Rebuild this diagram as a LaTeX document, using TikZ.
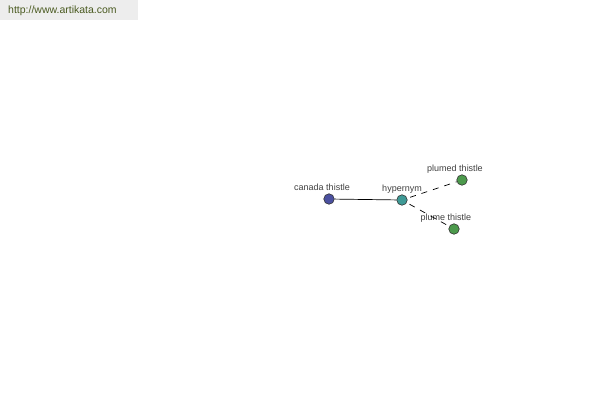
\documentclass[tikz,border=0pt]{standalone}
\usepackage{fontspec}
\setmainfont{Liberation Sans}
\begin{document}
\begin{tikzpicture}[x=1pt,y=-1pt,
  lbl/.style={font=\fontsize{9}{10}\selectfont, text=black!75, inner sep=0pt},
  dot/.style={circle, draw=black!80, line width=0.6pt, minimum size=10.5pt, inner sep=0pt},
  edge/.style={line width=0.7pt, black},
  hedge/.style={line width=0.7pt, black, dash pattern=on 6pt off 6pt, dash phase=9pt}]
\useasboundingbox (0,0) rectangle (600,400);
\fill[fill=black!7] (0,0) rectangle (138,20);
\node[anchor=west, font=\fontsize{10.5}{12}\selectfont, text={rgb,255:red,74;green,90;blue,32}, inner sep=0pt] (url) at (8,11) {http://www.artikata.com};
\node[dot, fill={rgb,255:red,75;green,80;blue,160}] (canada) at (329,199) {};
\node[dot, fill={rgb,255:red,62;green,154;blue,150}] (hyper) at (402,200) {};
\node[dot, fill={rgb,255:red,76;green,154;blue,76}] (plumed) at (462,180) {};
\node[dot, fill={rgb,255:red,76;green,154;blue,76}] (plume) at (454,229) {};
\node[lbl] (lcanada) at (322,187) {canada thistle};
\node[lbl] (lhyper) at (402,189) {hypernym};
\node[lbl] (lplumed) at (455,169) {plumed thistle};
\node[lbl] (lplume) at (446,218) {plume thistle};
\draw[edge] (canada) -- (hyper);
\draw[hedge] (hyper) -- (plumed);
\draw[hedge] (hyper) -- (plume);
\end{tikzpicture}
\end{document}
